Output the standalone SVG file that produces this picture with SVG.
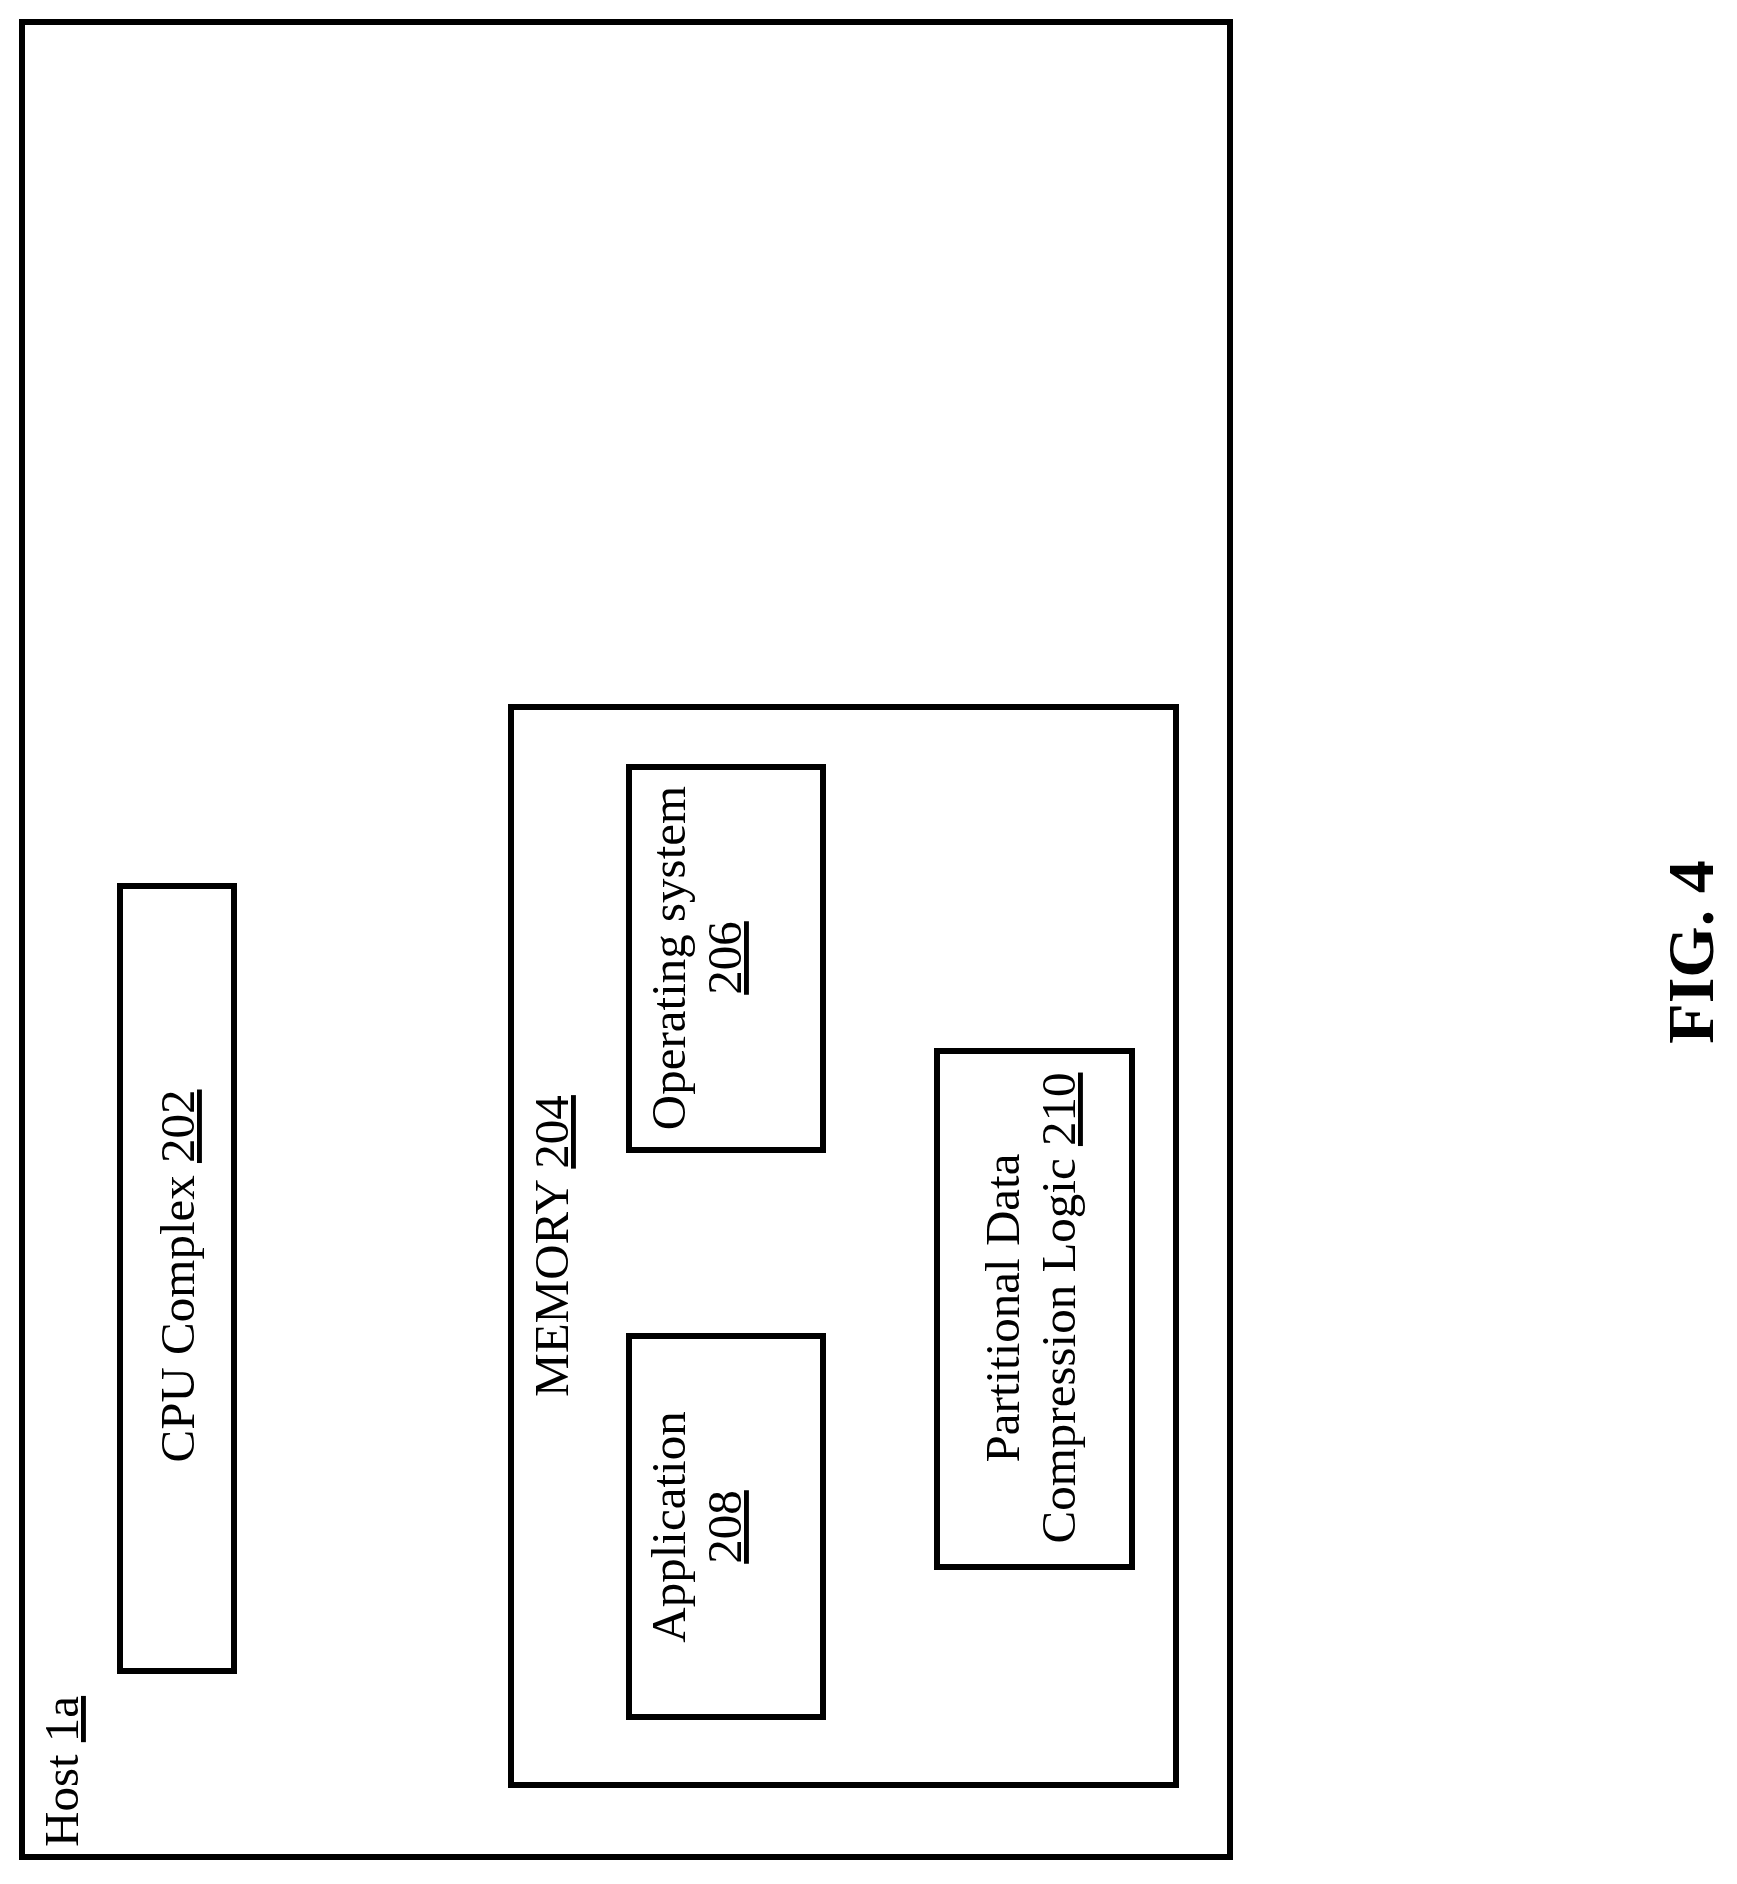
<svg xmlns="http://www.w3.org/2000/svg" width="1737" height="1884" viewBox="0 0 1737 1884">
<style>
rect{fill:none;stroke:#000;stroke-width:6}
text{font-family:"Liberation Serif",serif;font-size:49px;fill:#000;text-anchor:middle}
.u{text-decoration:underline}
</style>
<rect width="1737" height="1884" fill="#fff" style="fill:#fff;stroke:none"/>
<g id="host"><rect x="22" y="22" width="1208" height="1835"/>
<text transform="translate(78,1847) rotate(-90)" style="text-anchor:start">Host <tspan class="u">1a</tspan></text></g>
<g id="cpu"><rect x="120" y="886" width="114" height="785"/>
<text transform="translate(194,1276) rotate(-90)">CPU Complex <tspan class="u">202</tspan></text></g>
<g id="memory"><rect x="511" y="707" width="665" height="1078"/>
<text transform="translate(568,1246) rotate(-90)">MEMORY <tspan class="u">204</tspan></text></g>
<g id="os"><rect x="629" y="767" width="194" height="383"/>
<text transform="translate(685,958) rotate(-90)">Operating system</text>
<text transform="translate(741,958) rotate(-90)" class="u">206</text></g>
<g id="app"><rect x="629" y="1336" width="194" height="381"/>
<text transform="translate(685,1527) rotate(-90)">Application</text>
<text transform="translate(741,1527) rotate(-90)" class="u">208</text></g>
<g id="pdcl"><rect x="937" y="1051" width="195" height="516"/>
<text transform="translate(1019,1308) rotate(-90)">Partitional Data</text>
<text transform="translate(1075,1308) rotate(-90)">Compression Logic <tspan class="u">210</tspan></text></g>
<g id="connectors"/>
<text transform="translate(1713,952) rotate(-90)" style="font-weight:bold;font-size:66px">FIG. 4</text>
</svg>
